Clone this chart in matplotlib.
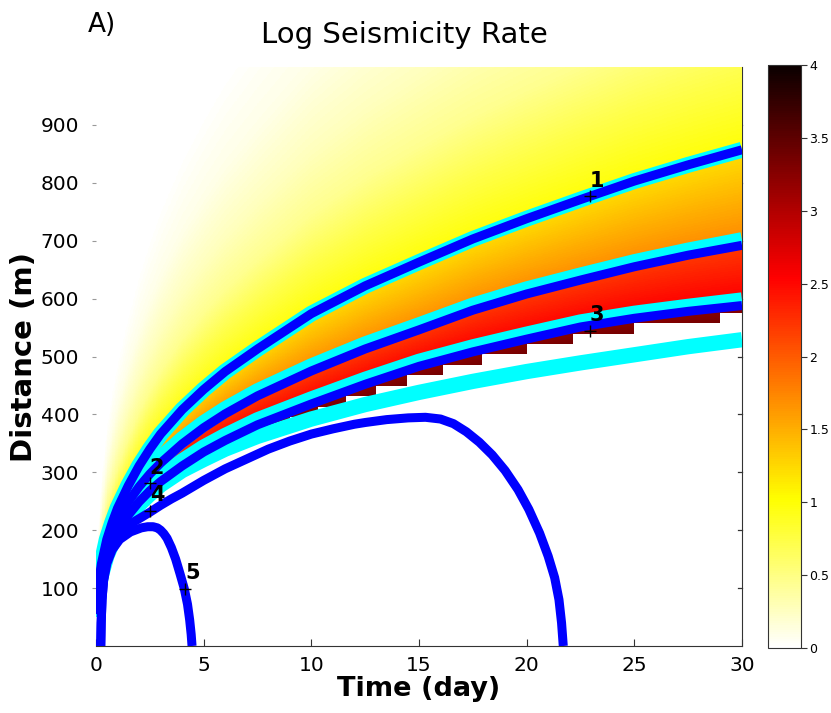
import numpy as np
import matplotlib
matplotlib.use('Agg')
import matplotlib.pyplot as plt

# curves (time in day, distance in m)
t_front = [0.02, 0.05, 0.1, 0.25, 0.5, 0.75, 1, 1.5, 2, 2.5, 3, 4, 5, 6, 7.5, 10, 12.5, 15, 17.5, 20, 22.5, 25, 27.5, 30]
r_blue1 = [62, 80, 102, 142, 184, 213, 238, 277, 311, 340, 366, 408, 443, 474, 513, 574, 622, 663, 703, 738, 771, 803, 831, 857]
r_blue2 = [58, 76, 99, 135, 171, 196, 217, 249, 275, 297, 316, 349, 377, 401, 432, 475, 513, 546, 580, 608, 632, 655, 675, 692]
r_blue3 = [55, 73, 96, 128, 160, 182, 200, 226, 249, 268, 284, 311, 335, 355, 382, 418, 452, 483, 508, 530, 551, 566, 578, 588]
r_cyan2 = [60, 78, 102, 139, 176, 202, 223, 256, 282, 304, 324, 357, 385, 409, 440, 483, 521, 554, 588, 616, 640, 663, 683, 701]
r_cyan3 = [57, 75, 99, 132, 165, 188, 206, 233, 256, 275, 292, 319, 343, 363, 390, 426, 460, 491, 516, 538, 559, 574, 586, 597]
r_cyan4 = [50, 68, 90, 122, 155, 177, 195, 222, 244, 262, 278, 303, 322, 340, 362, 392, 417, 438, 457, 474, 489, 503, 517, 529]

# back fronts (closed curves)
t_back4 = [0.22, 0.24, 0.28, 0.35, 0.5, 0.75, 1.1, 1.6, 2.1, 2.5, 3, 3.5, 4, 5, 6, 7, 8, 9, 10, 11, 12,
           12.5, 13.5, 14.5, 15.3, 16.0, 16.6, 17.2, 17.8, 18.4, 19.0, 19.6, 20.1, 20.6, 21.0, 21.3, 21.5, 21.62, 21.7]
r_back4 = [0, 40, 80, 115, 148, 175, 196, 211, 222, 231, 243, 254, 264, 286, 306, 323, 340, 354, 366, 375, 383,
           386, 391, 394, 395, 392, 384, 370, 352, 330, 303, 270, 236, 195, 155, 118, 80, 40, 0]
t_back5 = [0.22, 0.24, 0.28, 0.35, 0.5, 0.75, 1.1, 1.6, 2.1, 2.4, 2.65, 2.85, 3.0, 3.15, 3.3, 3.5, 3.7, 3.9,
           4.1, 4.25, 4.35, 4.42, 4.46]
r_back5 = [0, 40, 80, 112, 142, 166, 184, 197, 204, 206, 206, 204, 200, 194, 186, 170, 150, 125,
           99, 72, 45, 20, 0]

# numbered markers
mark_labels = ['1', '2', '3', '4', '5']
mark_t = [22.94, 2.5, 22.94, 2.5, 4.13]
mark_r = [777, 281, 544, 234, 99]

# log rate levels
ratio_pts = [1.0, 1.15, 1.3, 1.5, 1.75, 2.1]   # r / front1 above front 1
ratio_vals = [1.0, 0.73, 0.45, 0.26, 0.1, 0.0]
band_vals = [1.2, 1.75, 2.2, 2.6, 3.2, 3.4]     # below 1, above 2, below 2, above 3, below 3, edge
t_edge = [0, 5, 7, 30]
edge_drop = [0, 0, 26, 26]
edge_step = 18

cbar_ticks = [0, 0.5, 1, 1.5, 2, 2.5, 3, 3.5, 4]
x_ticks = [0, 5, 10, 15, 20, 25, 30]
y_ticks = [100, 200, 300, 400, 500, 600, 700, 800, 900]

# build the rate image
tg = np.linspace(0, 30, 901)
rg = np.linspace(0, 1000, 1001)
T, R = np.meshgrid(tg, rg)
b1 = np.interp(tg, t_front, r_blue1)[None, :]
b2 = np.interp(tg, t_front, r_blue2)[None, :]
b3 = np.interp(tg, t_front, r_blue3)[None, :]
low = b3 - np.interp(tg, t_edge, edge_drop)[None, :]
low = np.minimum(np.ceil(low / edge_step) * edge_step, b3)

val = np.full(R.shape, np.nan)
up = R >= b1
val = np.where(up, np.interp(R / b1, ratio_pts, ratio_vals), val)
m1 = (R < b1) & (R >= b2)
f1 = (b1 - R) / np.maximum(b1 - b2, 1e-6)
val = np.where(m1, band_vals[0] + f1 * (band_vals[1] - band_vals[0]), val)
m2 = (R < b2) & (R >= b3)
f2 = (b2 - R) / np.maximum(b2 - b3, 1e-6)
val = np.where(m2, band_vals[2] + f2 * (band_vals[3] - band_vals[2]), val)
m3 = (R < b3) & (R >= low)
f3 = np.clip((b3 - R) / 30.0, 0, 1)
val = np.where(m3, band_vals[4] + f3 * (band_vals[5] - band_vals[4]), val)
val = np.ma.masked_invalid(val)

fig = plt.figure(figsize=(8.31, 7.13), dpi=100)
ax = fig.add_axes([96 / 831, 67 / 713, 646 / 831, 579 / 713])
cmap = plt.get_cmap('hot_r').copy()
cmap.set_bad((1, 1, 1, 0))
im = ax.imshow(val, extent=[0, 30, 0, 1000], origin='lower', aspect='auto',
               cmap=cmap, vmin=0, vmax=4, interpolation='nearest', zorder=1)

cyan = '#00ffff'
blue = '#0000ff'
for rc in [r_blue1, r_cyan2, r_cyan3, r_cyan4]:
    lw = 11.5 if rc is not r_cyan4 else 11
    ax.plot(t_front, rc, color=cyan, lw=lw, solid_capstyle='butt', solid_joinstyle='round', zorder=2)
for rb in [r_blue1, r_blue2, r_blue3]:
    ax.plot(t_front, rb, color=blue, lw=6.5, solid_capstyle='butt', solid_joinstyle='round', zorder=3)
ax.plot(t_back4, r_back4, color=blue, lw=6.5, solid_capstyle='butt', solid_joinstyle='round', zorder=3)
ax.plot(t_back5, r_back5, color=blue, lw=6.5, solid_capstyle='butt', solid_joinstyle='round', zorder=3)

ax.plot(mark_t, mark_r, '+', color='k', ms=9, mew=1.0, zorder=5)
for lab, tt, rr in zip(mark_labels, mark_t, mark_r):
    ax.annotate(lab, (tt, rr), xytext=(0, 4), textcoords='offset points',
                ha='left', va='bottom', fontsize=15, fontweight='bold', zorder=6)

ax.set_xlim(0, 30)
ax.set_ylim(0, 1000)
ax.set_xticks(x_ticks)
ax.set_yticks(y_ticks)
ax.tick_params(axis='x', direction='in', length=5, labelsize=14.5, pad=7, color='#333333')
ax.tick_params(axis='y', direction='out', length=3, labelsize=14.5, pad=9, color='#999999')
ax.tick_params(axis='y', which='both', right=False)
ax.spines['top'].set_visible(False)
ax.spines['left'].set_visible(False)
ax.spines['right'].set_zorder(0.6)
ax.spines['right'].set_color('#333333')
ax.spines['bottom'].set_color('#333333')
# right-side inner ticks only show where the image is empty
for yv in y_ticks:
    ax.plot([29.8, 30], [yv, yv], color='#333333', lw=0.9, zorder=0.6, clip_on=False)

ax.set_xlabel('Time (day)', fontsize=19.5, fontweight='bold', labelpad=1)
ax.set_ylabel('Distance (m)', fontsize=21, fontweight='bold', labelpad=2)

fig.text(404 / 831, 1 - 43 / 713, 'Log Seismicity Rate', ha='center', va='baseline', fontsize=21)
fig.text(88 / 831, 1 - 25 / 713, 'A)', ha='left', va='center', fontsize=19)

cax = fig.add_axes([768 / 831, 65 / 713, 33 / 831, 583 / 713])
cb = fig.colorbar(im, cax=cax, ticks=cbar_ticks)
cb.ax.set_yticklabels(['%g' % v for v in cbar_ticks])
cb.ax.tick_params(direction='out', length=4, labelsize=9, pad=2, color='#333333')
cb.outline.set_edgecolor('#333333')

fig.savefig('out.png', dpi=100)
